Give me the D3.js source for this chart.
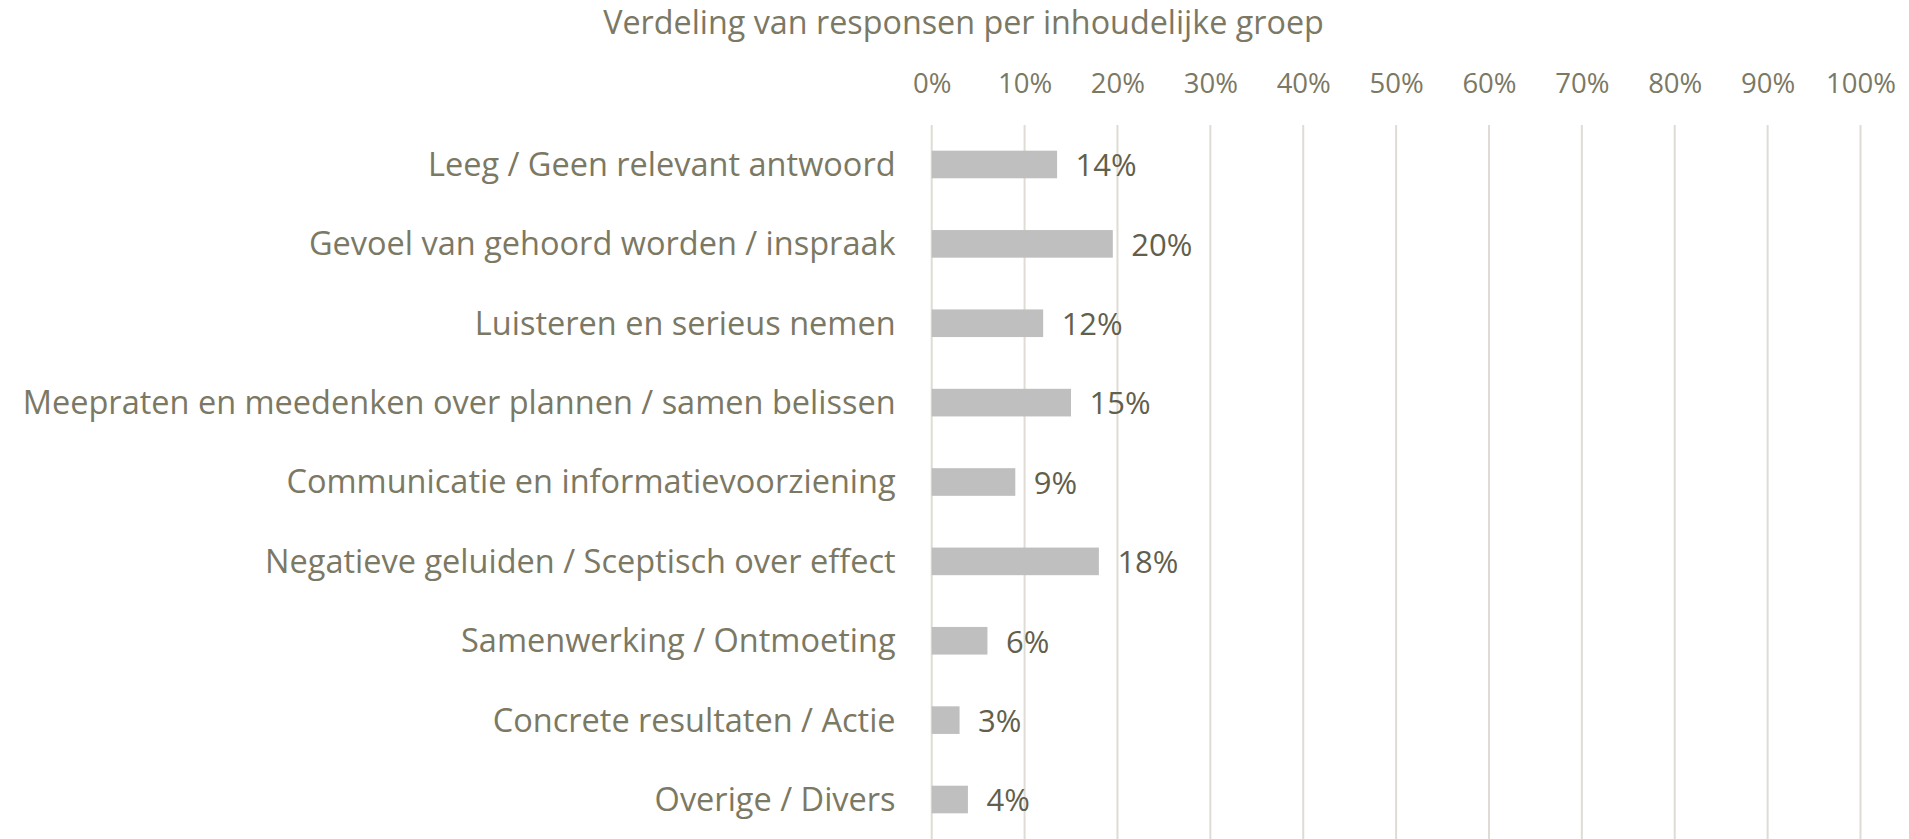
<!DOCTYPE html>
<html>
<head>
<meta charset="utf-8">
<script src="https://cdn.jsdelivr.net/npm/d3@7"></script>
<style>
  html, body { margin: 0; padding: 0; background: #ffffff; }
  svg { display: block; }
</style>
</head>
<body>
<svg id="chart" width="1909" height="839"></svg>
<script>
const title = "Verdeling van responsen per inhoudelijke groep";
const categories = [
  "Leeg / Geen relevant antwoord",
  "Gevoel van gehoord worden / inspraak",
  "Luisteren en serieus nemen",
  "Meepraten en meedenken over plannen / samen belissen",
  "Communicatie en informatievoorziening",
  "Negatieve geluiden / Sceptisch over effect",
  "Samenwerking / Ontmoeting",
  "Concrete resultaten / Actie",
  "Overige / Divers"
];
const values = [13.5, 19.5, 12, 15, 9, 18, 6, 3, 3.9];
const tickValues = [0, 10, 20, 30, 40, 50, 60, 70, 80, 90, 100];

const FONT = "'Open Sans', 'Noto Sans', sans-serif";
const TEXT = "#7b7864";
const LABEL = "#635f4d";

const svg = d3.select("#chart");
const W = 1909, H = 839;

const x = d3.scaleLinear().domain([0, 100]).range([931.7, 1860.5]);
const y = d3.scaleBand().domain(categories).range([124.8, 839.2])
  .paddingInner(0.652).paddingOuter(0.326);

// title
svg.append("text")
  .attr("x", 963.5).attr("y", 34.3)
  .attr("text-anchor", "middle")
  .attr("font-family", FONT).attr("font-size", 32.3)
  .attr("fill", TEXT)
  .text(title);

// gridlines
svg.append("g").selectAll("line").data(tickValues).join("line")
  .attr("x1", d => x(d)).attr("x2", d => x(d))
  .attr("y1", 125).attr("y2", H)
  .attr("stroke", "#dedcd5").attr("stroke-width", 2);

// top axis labels
const axis = d3.axisTop(x).tickValues(tickValues).tickFormat(d => d + "%").tickSize(0).tickPadding(0);
const ax = svg.append("g").attr("transform", "translate(0,93.3)").call(axis);
ax.select(".domain").remove();
ax.selectAll("text")
  .attr("font-family", FONT).attr("font-size", 27.5)
  .attr("fill", TEXT).attr("dy", 0).attr("y", 0);

// category labels
const yAxis = d3.axisLeft(y).tickSize(0).tickPadding(0);
const yg = svg.append("g").attr("transform", "translate(895.6,0)").call(yAxis);
yg.select(".domain").remove();
yg.selectAll("text")
  .attr("font-family", FONT).attr("font-size", 32.5)
  .attr("fill", TEXT).attr("x", 0).attr("dy", "0.35em");

// bars
svg.append("g").selectAll("rect").data(values).join("rect")
  .attr("x", x(0))
  .attr("y", (d, i) => y(categories[i]))
  .attr("width", d => x(d) - x(0))
  .attr("height", y.bandwidth())
  .attr("fill", "#bfbfbf");

// data labels
svg.append("g").selectAll("text").data(values).join("text")
  .attr("x", d => x(d) + 18.5)
  .attr("y", (d, i) => y(categories[i]) + y.bandwidth() / 2)
  .attr("dy", "0.38em")
  .attr("font-family", FONT).attr("font-size", 31)
  .attr("fill", LABEL)
  .text(d => Math.round(d) + "%");
</script>
</body>
</html>
